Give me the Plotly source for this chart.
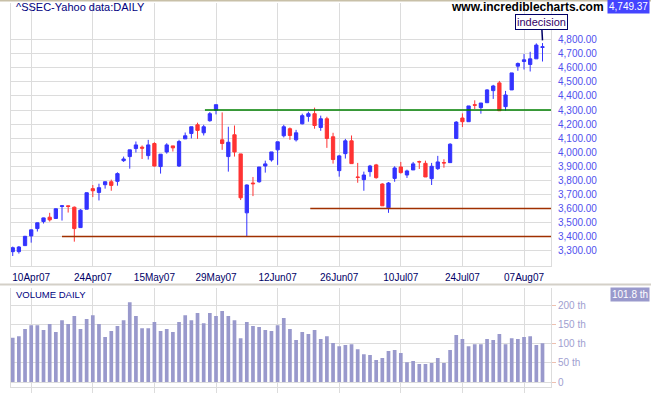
import pandas as pd
import plotly.graph_objects as go

# ---------------- data ----------------
holidays = pd.to_datetime(["2007-05-01", "2007-05-02", "2007-05-03", "2007-05-04", "2007-05-07"])
dates = [d.strftime("%Y-%m-%d") for d in pd.bdate_range("2007-04-05", "2007-08-10") if d not in holidays]

opens = [3293, 3293, 3336, 3405, 3457, 3507, 3538, 3529, 3614, 3619,
         3609, 3464, 3595, 3741, 3714, 3769, 3790, 3793, 3940, 3969,
         4026, 4036, 3976, 4062, 3898, 4002, 4045, 3902, 4095, 4133,
         4195, 4138, 4224, 4298, 4088, 3969, 4124, 3988, 3569, 3781,
         3790, 3902, 3945, 4017, 4117, 4167, 4088, 4202, 4255, 4274,
         4176, 4238, 4110, 3869, 3990, 4081, 3824, 3805, 3862, 3910,
         3774, 3605, 3814, 3895, 3838, 3874, 3933, 3921, 3812, 3883,
         3926, 3926, 4098, 4243, 4217, 4338, 4317, 4352, 4438, 4493,
         4324, 4443, 4612, 4645, 4624, 4664, 4745]
highs = [3329, 3333, 3405, 3450, 3500, 3535, 3569, 3600, 3621, 3621,
         3614, 3595, 3714, 3767, 3776, 3793, 3805, 3857, 3969, 4017,
         4076, 4048, 4088, 4071, 3986, 4064, 4045, 4088, 4140, 4181,
         4210, 4195, 4286, 4338, 4283, 4181, 4190, 3988, 3771, 3824,
         3895, 3940, 4002, 4074, 4195, 4176, 4159, 4274, 4288, 4317,
         4260, 4252, 4138, 3981, 4095, 4119, 3924, 3862, 3910, 3917,
         3779, 3788, 3900, 3931, 3876, 3931, 3940, 3940, 3924, 3974,
         3950, 4064, 4221, 4276, 4329, 4369, 4350, 4448, 4479, 4507,
         4436, 4564, 4638, 4698, 4714, 4774, 4776]
lows = [3262, 3279, 3333, 3357, 3436, 3493, 3507, 3526, 3514, 3571,
        3364, 3462, 3595, 3681, 3657, 3741, 3726, 3762, 3931, 3883,
        3998, 3952, 3948, 3898, 3848, 3990, 4005, 3895, 4095, 4098,
        4095, 4119, 4217, 4269, 4017, 3862, 3969, 3660, 3402, 3688,
        3783, 3855, 3933, 3910, 4105, 4088, 4076, 4198, 4217, 4167,
        4152, 4031, 3919, 3826, 3955, 3919, 3783, 3726, 3826, 3812,
        3619, 3569, 3790, 3848, 3817, 3874, 3881, 3824, 3767, 3874,
        3890, 3926, 4098, 4179, 4217, 4307, 4274, 4352, 4379, 4295,
        4295, 4443, 4579, 4588, 4574, 4664, 4645]
closes = [3321, 3326, 3402, 3448, 3498, 3533, 3519, 3598, 3619, 3614,
          3457, 3588, 3712, 3726, 3748, 3790, 3764, 3848, 3952, 4017,
          4052, 4029, 4052, 3902, 3986, 4052, 4031, 4076, 4117, 4181,
          4155, 4181, 4274, 4338, 4062, 4071, 4002, 3676, 3767, 3776,
          3895, 3917, 4002, 4074, 4181, 4119, 4138, 4260, 4274, 4190,
          4238, 4098, 3948, 3974, 4081, 3919, 3821, 3838, 3902, 3819,
          3619, 3781, 3888, 3855, 3867, 3917, 3931, 3824, 3900, 3931,
          3924, 4057, 4214, 4217, 4329, 4334, 4350, 4443, 4471, 4295,
          4407, 4564, 4631, 4657, 4664, 4762, 4749.37]
volume_th = [116, 120, 139, 149, 149, 136, 152, 131, 162, 152,
             173, 139, 165, 175, 152, 118, 134, 147, 162, 209,
             173, 141, 141, 157, 134, 139, 131, 157, 175, 162,
             181, 154, 181, 173, 186, 173, 162, 115, 157, 147,
             144, 136, 134, 149, 168, 139, 110, 131, 126, 136,
             113, 120, 102, 94, 97, 99, 86, 73, 71, 58,
             63, 81, 84, 76, 52, 55, 47, 47, 50, 63,
             50, 84, 123, 113, 94, 99, 99, 113, 110, 126,
             99, 115, 113, 118, 120, 97, 101.8]

tick_dates = ["2007-04-10", "2007-04-24", "2007-05-15", "2007-05-29", "2007-06-12",
              "2007-06-26", "2007-07-10", "2007-07-24", "2007-08-07"]
tick_labels = ["10Apr07", "24Apr07", "15May07", "29May07", "12Jun07",
               "26Jun07", "10Jul07", "24Jul07", "07Aug07"]
price_ticks = list(range(3300, 4801, 100))
vol_ticks = [0, 50, 100, 150, 200]
vol_tick_text = ["0", "50 th", "100 th", "150 th", "200 th"]

# horizontal support / resistance lines: (level, start position in trading days, colour)
levels = [(4300, 31.2, "#008000"), (3400, 8.0, "#a03000"), (3600, 48.3, "#a03000")]

# ---------------- figure ----------------
W, H = 651, 395
BLUE = "#3333ff"
RED = "#ff3333"
GRID = "#dcdcdc"
FONT = "Liberation Sans, Arial, sans-serif"

def px(x):
    return x / W

def py(y):
    return 1 - y / H

fig = go.Figure()
fig.add_trace(go.Candlestick(
    x=dates, open=opens, high=highs, low=lows, close=closes,
    increasing=dict(line=dict(color=BLUE, width=1), fillcolor=BLUE),
    decreasing=dict(line=dict(color=RED, width=1), fillcolor=RED),
    whiskerwidth=0, xaxis="x", yaxis="y", showlegend=False, hoverinfo="skip"))
fig.add_trace(go.Bar(
    x=dates, y=volume_th, marker=dict(color="#9999cc", line=dict(width=0)),
    xaxis="x2", yaxis="y2", showlegend=False, hoverinfo="skip"))

n = len(dates)
xr = [-0.36, n - 1 + 1.38]

common_x = dict(type="category", range=xr, showgrid=True, gridcolor=GRID, gridwidth=1,
                tickvals=tick_dates, ticktext=tick_labels, rangeslider=dict(visible=False),
                showline=True, linecolor=GRID, linewidth=1, zeroline=False, fixedrange=True)

fig.update_layout(
    width=W, height=H, margin=dict(l=0, r=0, t=0, b=0),
    paper_bgcolor="white", plot_bgcolor="white",
    boxgap=0.24, bargap=0.4,
    font=dict(family=FONT),
    xaxis=dict(common_x, domain=[px(10.5), px(551)], anchor="y",
               tickfont=dict(size=10, color="#000066", family=FONT), ticks="", ticklabelstandoff=2),
    yaxis=dict(domain=[py(266), py(3)], range=[3191, 5061], side="right",
               tickvals=price_ticks, tickformat=",.2f", showgrid=True, gridcolor=GRID, gridwidth=1,
               showline=True, mirror=True, linecolor=GRID, zeroline=False, ticks="",
               tickfont=dict(size=10, color="#5050ee", family=FONT), fixedrange=True,
               anchor="x", ticklabelstandoff=4),
    xaxis2=dict(common_x, domain=[px(10.5), px(551)], anchor="y2", showticklabels=False,
                ticks="outside", ticklen=5, tickcolor=GRID),
    yaxis2=dict(domain=[py(387), py(288)], range=[-13.1, 246.4], side="right",
                tickvals=vol_ticks, ticktext=vol_tick_text, showgrid=True, gridcolor=GRID,
                showline=True, mirror=True, linecolor=GRID, zeroline=False,
                ticks="outside", ticklen=4, tickcolor="#eec0b0",
                tickfont=dict(size=10, color="#a0a0d0", family=FONT), fixedrange=True, anchor="x2"),
)

shapes = []
for level, start, color in levels:
    shapes.append(dict(type="line", xref="x", yref="y", x0=start, x1=xr[1], y0=level, y1=level,
                       line=dict(color=color, width=1.5), layer="above"))
# window frame lines
shapes.append(dict(type="line", xref="paper", yref="paper", x0=0, x1=1, y0=py(0.7), y1=py(0.7),
                   line=dict(color="#c8c0a8", width=1.5)))
shapes.append(dict(type="line", xref="paper", yref="paper", x0=0, x1=1, y0=py(284.5), y1=py(284.5),
                   line=dict(color="#d4d0c8", width=2)))
fig.update_layout(shapes=shapes)

ann = []
ann.append(dict(xref="paper", yref="paper", x=px(14), y=py(7.5), xanchor="left", yanchor="middle",
                text="^SSEC-Yahoo data:DAILY", showarrow=False,
                font=dict(size=11, color="#000080", family=FONT)))
ann.append(dict(xref="paper", yref="paper", x=px(606), y=py(7.5), xanchor="right", yanchor="middle",
                text="<b>www.incrediblecharts.com</b>", showarrow=False,
                font=dict(size=12, color="black", family=FONT)))
ann.append(dict(xref="paper", yref="paper", x=px(650), y=py(6.5), xanchor="right", yanchor="middle",
                text=f"{closes[-1]:,.2f}", showarrow=False, bgcolor="#4444ff",
                borderpad=1, font=dict(size=10, color="white", family=FONT)))
ann.append(dict(xref="x", yref="y", x=dates[-1], y=4795, text="indecision",
                showarrow=True, arrowhead=0, arrowwidth=1.5, arrowcolor="#000066",
                ax=-1, ay=-18, standoff=0, bgcolor="white", bordercolor="#000066", borderwidth=1,
                borderpad=1, font=dict(size=11, color="#330066", family=FONT)))
ann.append(dict(xref="paper", yref="paper", x=px(14), y=py(294), xanchor="left", yanchor="middle",
                text="VOLUME DAILY", showarrow=False,
                font=dict(size=9.5, color="#000080", family=FONT)))
ann.append(dict(xref="paper", yref="paper", x=px(650), y=py(294), xanchor="right", yanchor="middle",
                text=f"{volume_th[-1]:.1f} th", showarrow=False, bgcolor="#9999cc",
                borderpad=1, font=dict(size=10, color="white", family=FONT)))
fig.update_layout(annotations=ann)

fig.write_html("out.html", config={"displayModeBar": False, "staticPlot": True},
               post_script="document.body.style.margin='0';document.body.style.overflow='hidden';")
